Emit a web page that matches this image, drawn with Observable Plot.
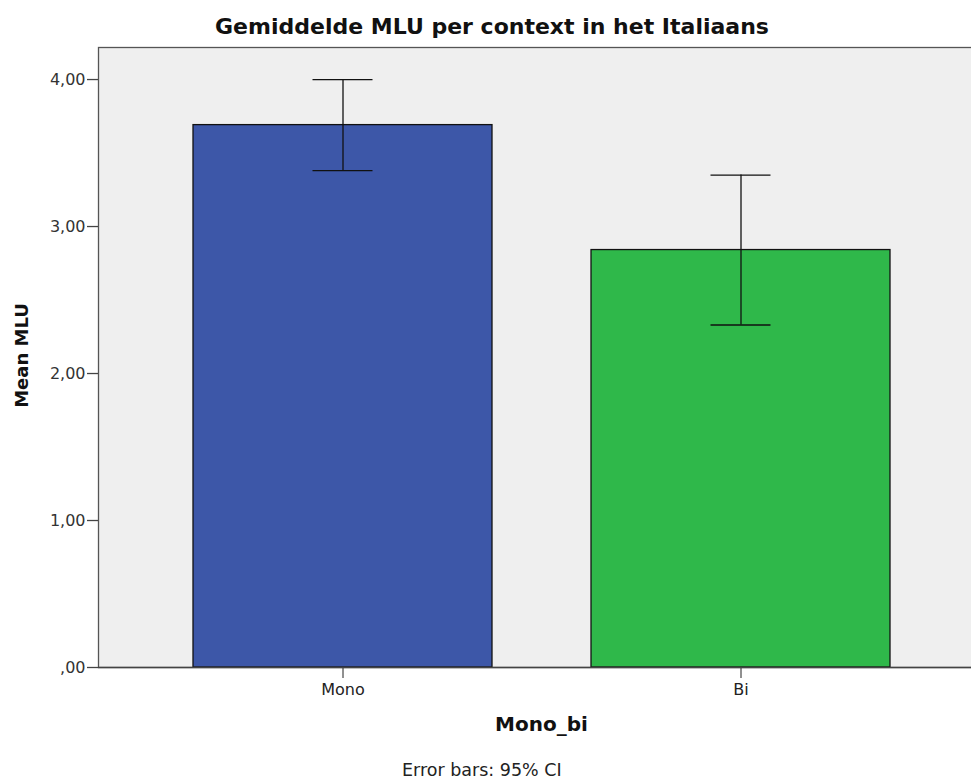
<!DOCTYPE html>
<html>
<head>
<meta charset="utf-8">
<script src="https://cdn.jsdelivr.net/npm/d3@7"></script>
<script src="https://cdn.jsdelivr.net/npm/@observablehq/plot@0.6"></script>
<style>
  html, body { margin: 0; padding: 0; background: #fff; }
  #wrap { position: relative; width: 971px; height: 781px; overflow: hidden; }
  #title { position: absolute; left: 13px; top: 14px; width: 958px; text-align: center;
           font: bold 22px "DejaVu Sans", sans-serif; color: #111; }
  #chart { position: absolute; left: 0; top: 44px; }
  #caption { position: absolute; left: 402px; top: 760px; font: 17.5px "DejaVu Sans", sans-serif; color: #222; white-space: nowrap; }
</style>
</head>
<body>
<div id="wrap">
  <div id="title">Gemiddelde MLU per context in het Italiaans</div>
  <div id="chart"></div>
  <div id="caption">Error bars: 95% CI</div>
</div>
<script>
const categories = ["Mono", "Bi"];
const means = [3.69, 2.84];
const ciLow = [3.38, 2.33];
const ciHigh = [4.00, 3.35];
const barColors = ["#3d57a8", "#2fb84a"];
const yTicks = [0, 1, 2, 3, 4];
const yTickLabels = [",00", "1,00", "2,00", "3,00", "4,00"];

const data = categories.map((c, i) => ({name: c, mean: means[i], lo: ciLow[i], hi: ciHigh[i]}));

const plot = Plot.plot({
  width: 971,
  height: 700,
  marginTop: 3,
  marginBottom: 77,
  marginLeft: 98,
  marginRight: -13,
  style: {background: "transparent", fontFamily: "DejaVu Sans, sans-serif", fontSize: "16px"},
  x: {domain: categories, paddingInner: 0.25, paddingOuter: 0.2356, axis: null},
  y: {domain: [0, 4.218], axis: null},
  color: {domain: categories, range: barColors},
  marks: [
    Plot.frame({fill: "#efefef", stroke: "#555", strokeWidth: 1.3}),
    Plot.barY(data, {x: "name", y: "mean", fill: "name", stroke: "#111", strokeWidth: 1.3}),
    Plot.ruleX(data, {x: "name", y1: "lo", y2: "hi", stroke: "#111", strokeWidth: 1.3}),
    Plot.tickY(data, {x: "name", y: "lo", stroke: "#111", strokeWidth: 1.3, insetLeft: 119.5, insetRight: 119.5}),
    Plot.tickY(data, {x: "name", y: "hi", stroke: "#111", strokeWidth: 1.3, insetLeft: 119.5, insetRight: 119.5}),
    Plot.axisY({ticks: yTicks, tickFormat: (d) => yTickLabels[yTicks.indexOf(d)], tickSize: 11, tickPadding: 2,
                fontSize: 16, stroke: "#444", strokeWidth: 1.3, fill: "#333", label: null}),
    Plot.axisX({tickSize: 11, tickPadding: 5, fontSize: 16, stroke: "#222", fill: "#222", label: null}),
    Plot.ruleY([0], {stroke: "#444", strokeWidth: 1.3}),
    Plot.text(["Mono_bi"], {frameAnchor: "bottom", dy: 63, text: d => d, fontSize: 20, fontWeight: "bold", fill: "#111"}),
    Plot.text(["Mean MLU"], {frameAnchor: "left", dx: -76, dy: -2, rotate: -90, textAnchor: "middle", text: d => d, fontSize: 18, fontWeight: "bold", fill: "#111"})
  ]
});
document.getElementById("chart").appendChild(plot);
</script>
</body>
</html>
